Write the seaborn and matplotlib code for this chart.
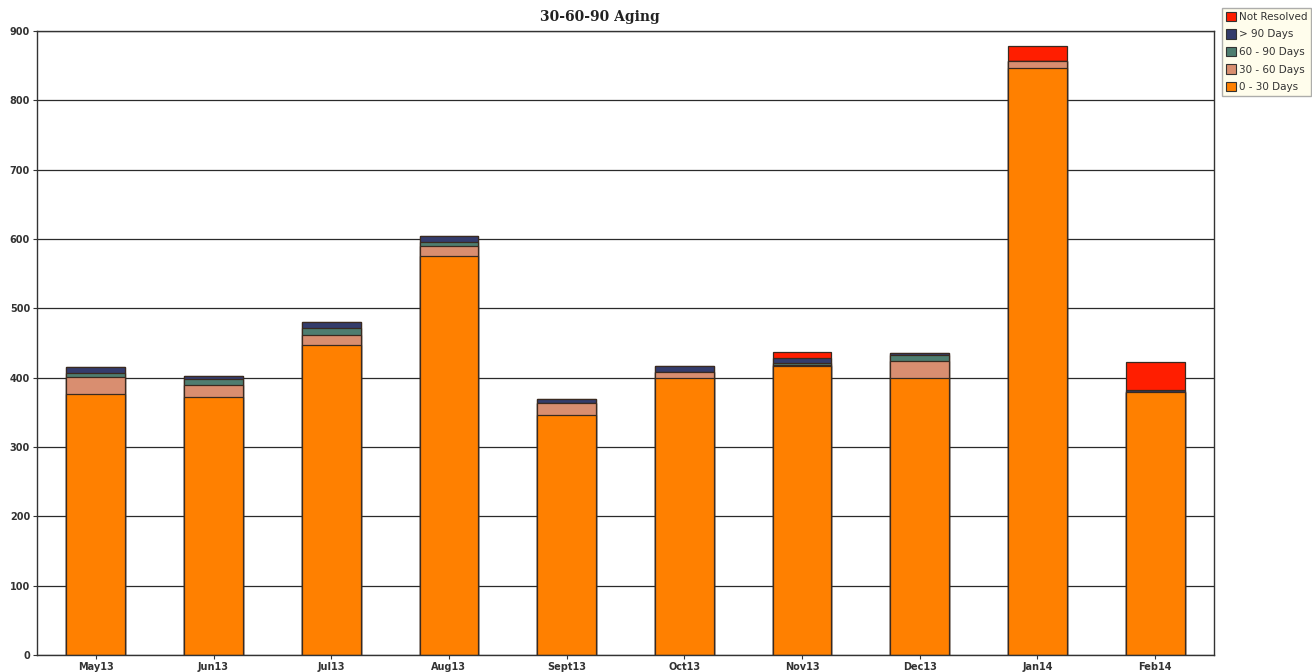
import matplotlib
matplotlib.use("Agg")
import matplotlib.pyplot as plt
import seaborn as sns
import numpy as np
import pandas as pd
from matplotlib.patches import Patch

months = ["May13", "Jun13", "Jul13", "Aug13", "Sept13", "Oct13", "Nov13", "Dec13", "Jan14", "Feb14"]
days_0_30 = [376, 372, 447, 576, 346, 400, 417, 400, 846, 380]
days_30_60 = [25, 17, 14, 14, 17, 8, 1, 24, 11, 0]
days_60_90 = [6, 9, 11, 6, 0, 0, 3, 9, 0, 0]
days_90_plus = [8, 4, 9, 9, 6, 9, 8, 2, 0, 2]
not_resolved = [0, 0, 0, 0, 0, 0, 8, 0, 21, 40]

series_names = ["0 - 30 Days", "30 - 60 Days", "60 - 90 Days", "> 90 Days", "Not Resolved"]
series_vals = [days_0_30, days_30_60, days_60_90, days_90_plus, not_resolved]
colors = ["#FF8000", "#D98E70", "#4E7D70", "#343C6C", "#FF1E00"]

sns.set_theme(style="white")
plt.rcParams["font.family"] = ["DejaVu Sans"]

fig = plt.figure(figsize=(13.12, 6.72), dpi=100)
ax = fig.add_axes([37 / 1312, 17 / 672, (1214 - 37) / 1312, (655 - 31) / 672])

cum = np.cumsum(np.array(series_vals, dtype=float), axis=0)
df = pd.DataFrame({"month": months})
# draw cumulative totals from top to bottom so lower segments overlay
for i in range(len(series_names) - 1, -1, -1):
    df["val"] = cum[i]
    sns.barplot(data=df, x="month", y="val", color=colors[i], width=0.5,
                edgecolor="#3a2a20", linewidth=0.9, saturation=1, ax=ax, zorder=2)

ax.set_ylim(0, 900)
ax.set_xlim(-0.5, 9.5)
ax.set_yticks(range(0, 901, 100))
ax.set_xlabel("")
ax.set_ylabel("")
ax.yaxis.grid(True, color="#2a2a2a", linewidth=0.9)
ax.set_axisbelow(True)
for s in ax.spines.values():
    s.set_visible(True)
    s.set_color("#333333")
    s.set_linewidth(1.0)
ax.tick_params(axis="both", which="both", length=3, width=0.8, color="#333333",
               labelsize=7, labelcolor="#333333", pad=2,
               bottom=True, left=True)
for lab in ax.get_xticklabels() + ax.get_yticklabels():
    lab.set_fontweight("bold")

fig.text(0.457, 0.975, "30-60-90 Aging", ha="center", va="center",
         fontsize=10, fontweight="bold", family="DejaVu Serif", color="#222222")

handles = [Patch(facecolor=colors[i], edgecolor="#333333", linewidth=0.8)
           for i in range(len(series_names) - 1, -1, -1)]
labels = [series_names[i] for i in range(len(series_names) - 1, -1, -1)]
leg = fig.legend(handles, labels, loc="upper left", bbox_to_anchor=(1222 / 1312, 0.988),
                 fontsize=7.5, frameon=True, handlelength=1.0, handleheight=1.0,
                 handletextpad=0.25, borderpad=0.35, labelspacing=0.7,
                 borderaxespad=0, fancybox=False)
leg.get_frame().set_facecolor("#FFFDE8")
leg.get_frame().set_edgecolor("#999999")
for t in leg.get_texts():
    t.set_color("#333333")

fig.savefig("out.png", dpi=100)
